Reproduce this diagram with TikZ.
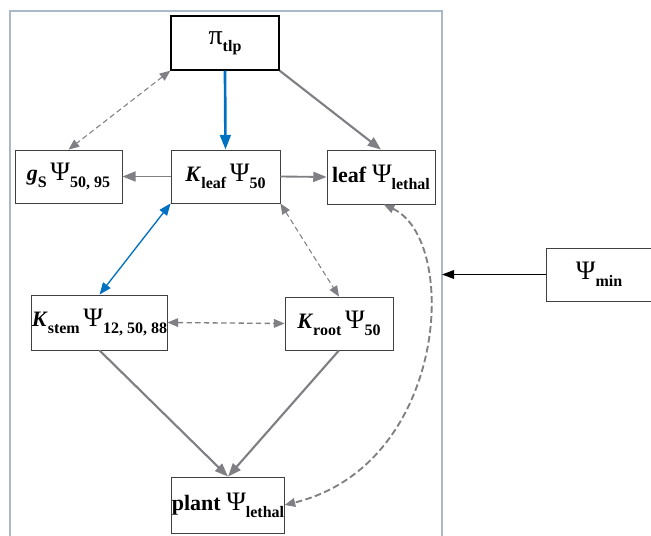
\documentclass[tikz,border=0pt]{standalone}
\usepackage{fontspec}
\setmainfont{Liberation Serif}
\usetikzlibrary{arrows.meta}
\definecolor{ag}{RGB}{128,128,132}
\definecolor{ab}{RGB}{0,112,192}
\definecolor{fr}{RGB}{170,185,200}
\newcommand{\sbx}[1]{\raisebox{-0.7ex}{\fontsize{12}{12}\selectfont\bfseries #1}}
\newcommand{\mx}{\fontsize{16.5}{18}\selectfont}
\newcommand{\gP}{{\fontsize{20}{20}\selectfont Ψ}}
\newcommand{\gp}{{\fontsize{21}{21}\selectfont π}}
\begin{document}
\begin{tikzpicture}[x=0.75pt,y=-0.75pt,
  box/.style={draw=black!75,line width=0.6pt,inner sep=0pt,font=\mx},
  gtip/.style={-{Triangle[length=10pt,width=7.5pt]},draw=ag,line width=1.6pt},
  gdash/.style={{Triangle[length=8pt,width=6.5pt]}-{Triangle[length=8pt,width=6.5pt]},draw=ag,line width=0.8pt,dash pattern=on 4pt off 2.5pt},
]
\useasboundingbox (0,0) rectangle (651,536);
% frame
\draw[fr,line width=0.8pt] (10,540) -- (10,11) -- (442,11) -- (442,540);
% nodes
\node[box,draw=black,line width=1pt,minimum width=81pt,minimum height=40.5pt] (pi) at (225,43) {\gp\sbx{tlp}};
\node[box,minimum width=80.25pt,minimum height=39.75pt] (gs) at (68.5,176.5) {\textbf{\textit{g}}\sbx{S}\,\gP\sbx{50, 95}};
\node[box,minimum width=81.75pt,minimum height=39.75pt] (kl) at (225.5,176.5) {\textbf{\textit{K}}\sbx{leaf}\,\gP\sbx{50}};
\node[box,minimum width=81pt,minimum height=40.5pt] (lf) at (381,177) {\textbf{leaf} \gP\sbx{lethal}};
\node[box,minimum width=101.25pt,minimum height=41.25pt] (ks) at (99.5,322.5) {\textbf{\textit{K}}\sbx{stem}\,\gP\sbx{12, 50, 88}};
\node[box,minimum width=81pt,minimum height=39.75pt] (kr) at (339,323.5) {\textbf{\textit{K}}\sbx{root}\,\gP\sbx{50}};
\node[box,minimum width=84pt,minimum height=42pt] (pl) at (228,505) {\textbf{plant} \gP\sbx{lethal}};
\node[box,minimum width=79.5pt,minimum height=39.75pt] (pm) at (599,274.5) {\gP\sbx{min}};
\coordinate (fe) at (442,274.5);
% connectors
\draw[gdash] (pi.south west) -- (gs.north);
\draw[-{Triangle[length=11pt,width=8pt]},draw=ab,line width=2pt] (pi.south) -- (kl.north);
\draw[gtip] (pi.south east) -- (lf.north);
\draw[gtip,line width=1.4pt] (kl.west) -- (gs.east);
\draw[gtip,line width=1.4pt] (kl.east) -- (lf.west);
\draw[{Triangle[length=9pt,width=7pt]}-{Triangle[length=9pt,width=7pt]},draw=ab,line width=1pt] (kl.south west) -- (ks.north);
\draw[gdash] (kl.south east) -- (kr.north);
\draw[gdash,line width=1pt] (ks.east) -- (kr.west);
\draw[gtip] (ks.south) -- (pl.north);
\draw[gtip] (kr.south) -- (pl.north);
\draw[gdash,line width=1.4pt,dash pattern=on 5pt off 2.5pt] ([xshift=2pt]lf.south) .. controls (460,240) and (448,465) .. (pl.east);
\draw[-{Triangle[length=9pt,width=6.5pt]},line width=1pt,black] (pm.west) -- (fe);
\end{tikzpicture}
\end{document}
